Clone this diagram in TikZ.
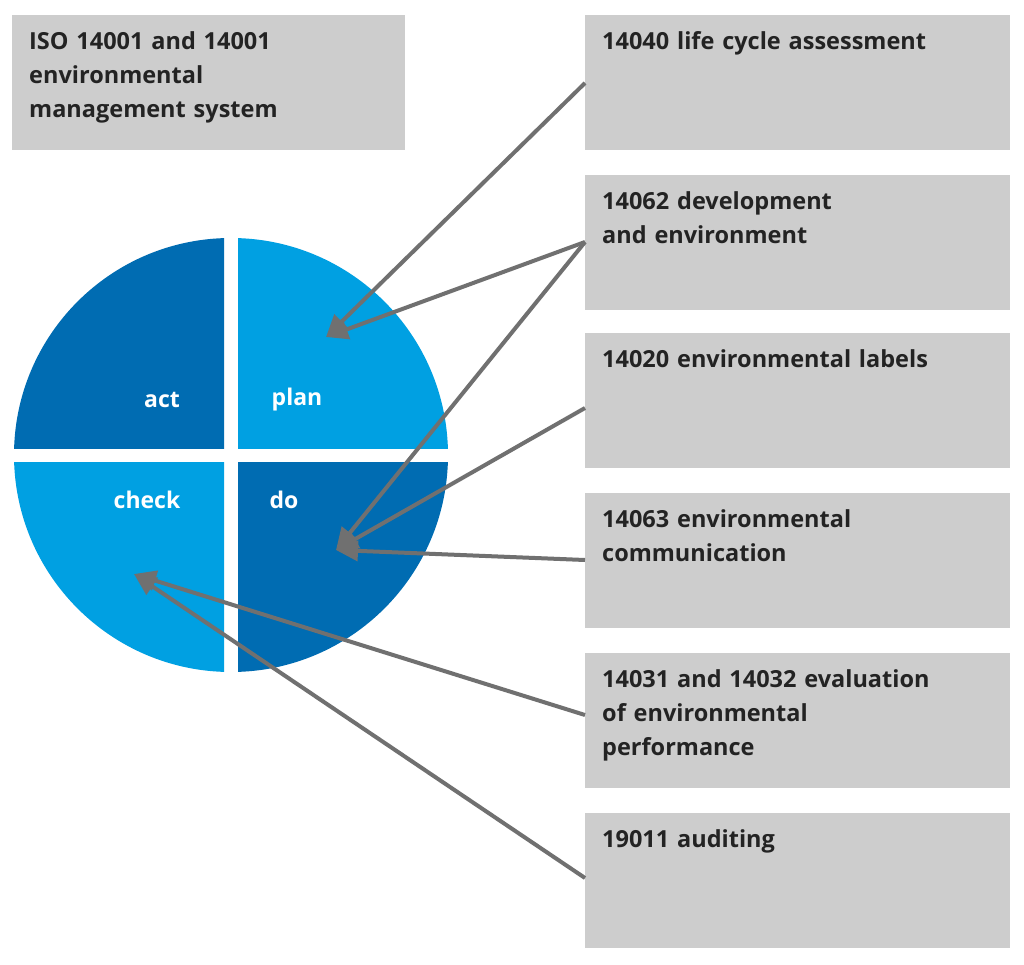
\documentclass[tikz,border=0pt]{standalone}
\usepackage{fontspec}
\setmainfont{Open Sans}
\usetikzlibrary{arrows.meta}
\definecolor{boxg}{RGB}{205,205,205}
\definecolor{dark}{RGB}{0,108,178}
\definecolor{light}{RGB}{0,160,226}
\definecolor{arr}{RGB}{112,112,112}
\definecolor{txt}{RGB}{35,35,35}
\begin{document}
\begin{tikzpicture}[x=1pt,y=-1pt,
  box/.style={draw=none,anchor=north west,align=left,text=txt,
    font=\fontsize{23.5}{34}\selectfont\bfseries,inner xsep=17pt,inner ysep=16pt,text width=390pt},
  lbl/.style={text=white,font=\fontsize{23}{26}\selectfont\bfseries},
  ar/.style={draw=arr,line width=4pt,-{Triangle[length=22pt,width=20pt]}}]
\useasboundingbox (0,0) rectangle (1024,965);
\fill[white] (0,0) rectangle (1024,965);
\fill[boxg] (12,15) rectangle (405,150);
\node[box,text width=360pt] (iso) at (12,15) {ISO 14001 and 14001\\environmental\\management system};
\foreach \n/\y/\t in {b1/15/{14040 life cycle assessment},
 b2/175/{14062 development\\and environment},
 b3/333/{14020 environmental labels},
 b4/493/{14063 environmental\\communication},
 b5/653/{14031 and 14032 evaluation\\of environmental\\performance},
 b6/813/{19011 auditing}}{
 \fill[boxg] (585,\y) rectangle (1010,\y+135);
 \node[box] (\n) at (585,\y) {\t};
}
% circle quadrants
\begin{scope}\clip (0,0) rectangle (224,448);\fill[dark] (231,455) circle[radius=217];\end{scope}
\begin{scope}\clip (238,0) rectangle (460,448);\fill[light] (231,455) circle[radius=217];\end{scope}
\begin{scope}\clip (0,462) rectangle (224,700);\fill[light] (231,455) circle[radius=217];\end{scope}
\begin{scope}\clip (238,462) rectangle (460,700);\fill[dark] (231,455) circle[radius=217];\end{scope}
\node[lbl] (act) at (162,400) {act};
\node[lbl] (plan) at (297,400) {plan};
\node[lbl] (check) at (147,500) {check};
\node[lbl] (do) at (284,500) {do};
\coordinate (pP) at (326,337);
\coordinate (pD) at (336,550);
\coordinate (pC) at (134,574);
\draw[ar] (585,83) -- (pP);
\draw[ar] (585,242) -- (pP);
\draw[ar] (585,242) -- (pD);
\draw[ar] (585,408) -- (pD);
\draw[ar] (585,560) -- (pD);
\draw[ar] (585,715) -- (pC);
\draw[ar] (585,878) -- (pC);
\end{tikzpicture}
\end{document}
